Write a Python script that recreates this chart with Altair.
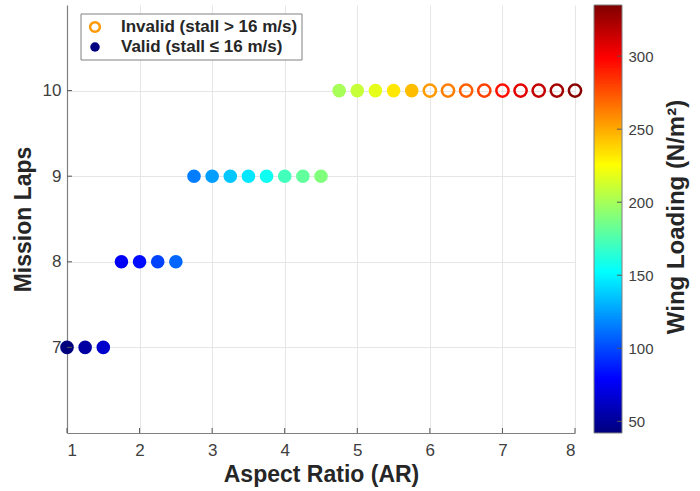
import altair as alt
import pandas as pd

# ---- data ----
aspect_ratio = [1.0, 1.25, 1.5,
                1.75, 2.0, 2.25, 2.5,
                2.75, 3.0, 3.25, 3.5, 3.75, 4.0, 4.25, 4.5,
                4.75, 5.0, 5.25, 5.5, 5.75, 6.0, 6.25, 6.5, 6.75, 7.0, 7.25, 7.5, 7.75, 8.0]
mission_laps = [7, 7, 7,
                8, 8, 8, 8,
                9, 9, 9, 9, 9, 9, 9, 9,
                10, 10, 10, 10, 10, 10, 10, 10, 10, 10, 10, 10, 10, 10]
wing_loading = [42, 52, 64,
                76, 82, 98, 108,
                115, 124, 136, 145, 156, 171, 180, 189,
                200, 209, 218, 232, 244, 254, 262, 271, 280, 294, 306, 315, 324, 332]
status = ["Valid", "Valid", "Valid",
          "Valid", "Valid", "Valid", "Valid",
          "Valid", "Valid", "Valid", "Valid", "Valid", "Valid", "Valid", "Valid",
          "Valid", "Valid", "Valid", "Valid", "Valid",
          "Invalid", "Invalid", "Invalid", "Invalid", "Invalid", "Invalid", "Invalid", "Invalid", "Invalid"]
x_ticks = [1, 2, 3, 4, 5, 6, 7, 8]
y_ticks = [7, 8, 9, 10]
cbar_ticks = [50, 100, 150, 200, 250, 300]
legend_labels = ["Invalid (stall > 16 m/s)", "Valid (stall \u2264 16 m/s)"]
cbar_title = ["Wing Loading  (N/m\u00b2)"]
wl_range = [42, 335]
x_range = [1, 8]
y_range = [6, 11]

df = pd.DataFrame({"AR": aspect_ratio, "Laps": mission_laps,
                   "WL": wing_loading, "Status": status})

# jet colormap, evenly spaced stops (t = 0, 0.125, ..., 1)
jet_colors = ["#00007F", "#0000FF", "#007FFF", "#00FFFF", "#7FFF7F",
              "#FFFF00", "#FF7F00", "#FF0000", "#7F0000"]


def jet_scale():
    return alt.Scale(domain=wl_range, range=jet_colors, interpolate="rgb",
                     nice=False, zero=False)


FONT = "Liberation Sans"
TICK_COLOR = "#555555"

x_scale = alt.Scale(domain=x_range, nice=False, zero=False)
y_scale = alt.Scale(domain=y_range, nice=False, zero=False)
x_axis = alt.Axis(values=x_ticks, format="d", title="Aspect Ratio (AR)")

x_enc = alt.X("AR:Q", scale=x_scale, axis=x_axis)
y_enc = alt.Y("Laps:Q", scale=y_scale,
              axis=alt.Axis(values=y_ticks, format="d", title="Mission Laps"))

base = alt.Chart(df)

valid_pts = base.transform_filter(alt.datum.Status == "Valid").mark_circle(
    size=185, opacity=1
).encode(x=x_enc, y=y_enc,
         fill=alt.Fill("WL:Q", scale=jet_scale(), legend=None))

invalid_pts = base.transform_filter(alt.datum.Status == "Invalid").mark_point(
    filled=False, size=150, strokeWidth=2.5, opacity=1
).encode(x=x_enc, y=y_enc,
         stroke=alt.Stroke("WL:Q", scale=jet_scale(), legend=None))

main = alt.layer(valid_pts, invalid_pts)

# inward tick marks (MATLAB style)
x_tick_marks = alt.Chart(pd.DataFrame({"AR": x_ticks})).mark_rule(
    color=TICK_COLOR, strokeWidth=1
).encode(x=alt.X("AR:Q", scale=x_scale, axis=x_axis), y=alt.value(428), y2=alt.value(423))

y_tick_marks = alt.Chart(pd.DataFrame({"t": y_ticks})).mark_rule(
    color=TICK_COLOR, strokeWidth=1
).encode(y=alt.Y("t:Q", scale=y_scale, axis=None), x=alt.value(0), x2=alt.value(5))

# ---- colour bar (rendering of the jet scale, sampled by Vega's sequence generator) ----
cbar_scale = alt.Scale(domain=wl_range, nice=False, zero=False)
cbar_y = alt.Y("v:Q", scale=cbar_scale,
               axis=alt.Axis(orient="right", values=cbar_ticks, format="d", offset=47,
                             grid=False, domain=False, ticks=False, title=None,
                             labelFontSize=15, labelPadding=6, labelColor="#404040"))

cbar_rects = alt.Chart(alt.sequence(42, 335, 1, as_="v")).transform_calculate(
    v2="min(datum.v + 1.6, 335)"
).mark_rect().encode(
    x=alt.value(527), x2=alt.value(555),
    y=cbar_y, y2="v2:Q",
    fill=alt.Fill("v:Q", scale=jet_scale(), legend=None),
)

cbar_tick_marks = alt.Chart(pd.DataFrame({"t": cbar_ticks})).mark_rule(
    color=TICK_COLOR, strokeWidth=1
).encode(y=alt.Y("t:Q", scale=cbar_scale, axis=None), x=alt.value(550), x2=alt.value(555))

one = pd.DataFrame({"k": [0]})

# pixel positions below are relative to the plot area's top-left corner
cbar_frame = alt.Chart(one).mark_rect(
    fill="transparent", stroke="#808080", strokeWidth=1
).encode(x=alt.value(527), x2=alt.value(555), y=alt.value(0), y2=alt.value(428))

cbar_text = alt.Chart(pd.DataFrame({"t": cbar_title})).mark_text(
    angle=270, fontSize=24, fontWeight="bold", font=FONT, color="#262626",
    align="center", baseline="middle"
).encode(x=alt.value(610), y=alt.value(212), text="t:N")

leg_box = alt.Chart(one).mark_rect(
    fill="white", stroke="#808080", strokeWidth=1
).encode(x=alt.value(14), x2=alt.value(235), y=alt.value(9), y2=alt.value(55))

leg_sym_invalid = alt.Chart(one).mark_point(
    filled=False, shape="circle", size=95, strokeWidth=2.5, color="#FF9900", opacity=1
).encode(x=alt.value(28), y=alt.value(22))

leg_sym_valid = alt.Chart(one).mark_circle(
    size=90, color="#000080", opacity=1
).encode(x=alt.value(28), y=alt.value(42))

leg_txt_invalid = alt.Chart(pd.DataFrame({"t": [legend_labels[0]]})).mark_text(
    fontSize=17, fontWeight="bold", font=FONT, color="#262626",
    align="left", baseline="middle"
).encode(x=alt.value(54), y=alt.value(22), text="t:N")

leg_txt_valid = alt.Chart(pd.DataFrame({"t": [legend_labels[1]]})).mark_text(
    fontSize=17, fontWeight="bold", font=FONT, color="#262626",
    align="left", baseline="middle"
).encode(x=alt.value(54), y=alt.value(42), text="t:N")

chart = alt.layer(
    main, x_tick_marks, y_tick_marks, cbar_rects, cbar_tick_marks,
    cbar_frame, cbar_text,
    leg_box, leg_sym_invalid, leg_sym_valid, leg_txt_invalid, leg_txt_valid
).resolve_scale(
    y="independent"
).properties(
    width=508, height=428,
    autosize=alt.AutoSizeParams(type="none"),
    padding={"left": 67, "top": 5, "right": 125, "bottom": 58},
).configure_view(
    stroke="transparent"
).configure_axis(
    labelFont=FONT, labelFontSize=17, labelColor="#404040",
    titleFont=FONT, titleFontSize=23, titleFontWeight="bold", titleColor="#262626",
    domainColor="#808080", domainWidth=1.2,
    gridColor="#E6E6E6", gridWidth=1,
    ticks=False,
).configure_axisX(
    labelPadding=9, titlePadding=5
).configure_axisY(
    labelPadding=6, titlePadding=7
)

chart.save("out.html", embed_options={"renderer": "svg", "actions": False})
